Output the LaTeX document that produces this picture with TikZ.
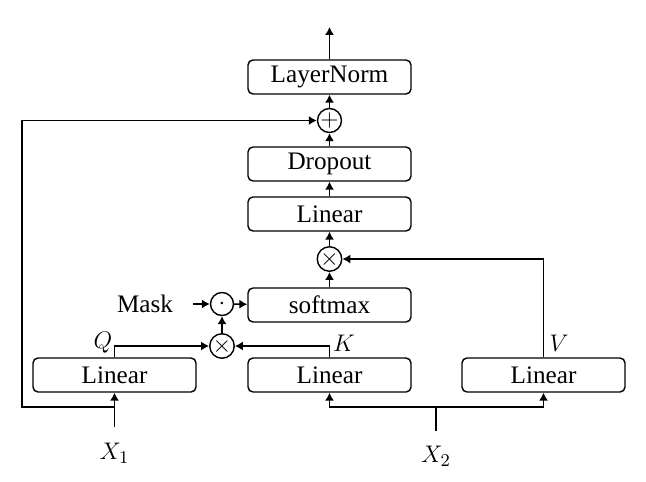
\documentclass[tikz,border=0pt]{standalone}
\usepackage{amsmath}
\usepackage{fontspec}
\setmainfont{Liberation Serif}
\usetikzlibrary{
    arrows.meta
}
\tikzset {
    block/.style = {draw, rounded corners = 2.5pt, line width = 0.7pt,
        minimum width = 81.5pt, minimum height = 17pt, inner sep = 0pt},
    op/.style = {draw, circle, line width = 0.7pt, minimum size = 11.5pt, inner sep = 0pt},
    empty/.style = {inner sep = 0pt},
    wire/.style = {line width = 0.8pt},
    flow/.style = {line width = 0.8pt, arrows = {-Latex[length = 4pt, width = 4.6pt]}}
}

\begin{document}
\begin{tikzpicture}[x = 0.5pt, y = -0.5pt, font = \fontsize{12.6}{15}\selectfont]
    \useasboundingbox (0, 0) rectangle (646, 481);
    % blocks
    \node (norm)  [block] at (329.5,  77) {LayerNorm};
    \node (drop)  [block] at (329.5, 164) {Dropout};
    \node (lin)   [block] at (329.5, 214) {Linear};
    \node (soft)  [block] at (329.5, 305) {softmax};
    \node (q lin) [block] at (114.5, 375) {Linear};
    \node (k lin) [block] at (329.5, 375) {Linear};
    \node (v lin) [block] at (543.5, 375) {Linear};
    % operators
    \node (plus)   [op] at (329.5, 120.5) {$+$};
    \node (mul v)  [op] at (329.5, 259)   {$\times$};
    \node (dot)    [op] at (222,   304)   {$\cdot$};
    \node (mul qk) [op] at (222,   346)   {$\times$};
    % labels
    \node (mask) [empty] at (145, 304) {Mask};
    \node (q)    [empty] at (103, 343) {$Q$};
    \node (k)    [empty] at (344, 343) {$K$};
    \node (v)    [empty] at (559, 343) {$V$};
    \node (x1 label) [empty] at (114.5, 453) {$X_1$};
    \node (x2 label) [empty] at (436,   456) {$X_2$};
    % free ends
    \coordinate (out)   at (329.5, 27);
    \coordinate (x1)    at (114.5, 427);
    \coordinate (split) at (114.5, 407);
    \coordinate (x2)    at (436,   431);
    \coordinate (bus)   at (436,   407);
    \coordinate (mask in) at (193, 304);
    % connectors
    \draw [flow] (x1) -- (q lin.south);
    \draw [flow] (split) -- ++(-92.5, 0) |- (plus);
    \draw [wire] (x2) -- (bus);
    \draw [flow] (bus) -| (k lin.south);
    \draw [flow] (bus) -| (v lin.south);
    \draw [flow] (q lin.north) |- (mul qk);
    \draw [flow] (k lin.north) |- (mul qk);
    \draw [flow] (mul qk) -- (dot);
    \draw [flow] (mask in) -- (dot);
    \draw [flow] (dot) -- (soft);
    \draw [flow] (soft) -- (mul v);
    \draw [flow] (v lin.north) |- (mul v);
    \draw [flow] (mul v) -- (lin);
    \draw [flow] (lin) -- (drop);
    \draw [flow] (drop) -- (plus);
    \draw [flow] (plus) -- (norm);
    \draw [flow] (norm) -- (out);
\end{tikzpicture}
\end{document}
